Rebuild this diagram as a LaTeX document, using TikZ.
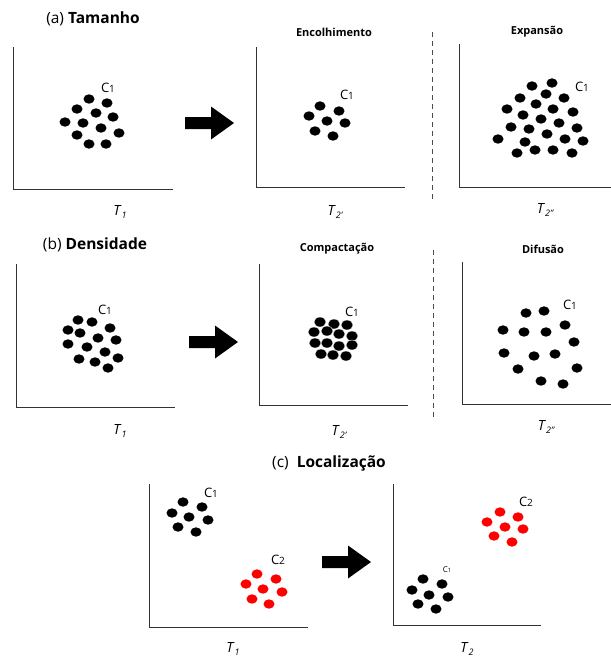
\documentclass[tikz,border=0pt]{standalone}
\usepackage{fontspec}
\setmainfont{Open Sans}
\begin{document}
\begin{tikzpicture}[x=1pt,y=-1pt,
  axis/.style={draw=black!80,line width=1pt},
  sep/.style={draw=black!70,line width=0.9pt,dash pattern=on 5pt off 4pt},
  dot/.style={fill=black},
  rdot/.style={fill=red},
  title/.style={font=\fontsize{15.5}{17}\selectfont},
  sub/.style={font=\bfseries\fontsize{11}{13}\selectfont},
  clab/.style={font=\fontsize{13}{15}\selectfont, inner sep=0pt},
  tlab/.style={font=\fontsize{14}{16}\selectfont, inner sep=0pt},
  bigarrow/.style={fill=black}]
\useasboundingbox (0,0) rectangle (611,657);
\newcommand{\dt}[3][dot]{\fill[#1] (#2,#3) ellipse (5.5pt and 4.7pt);}
\newcommand{\barrow}[2]{\fill[bigarrow] (#1,#2-6) -- ++(26,0) -- ++(0,-10.5) -- ++(23,16.5) -- ++(-23,16.5) -- ++(0,-10.5) -- ++(-26,0) -- cycle;}
\newcommand{\Cl}[1]{C{\fontsize{10}{12}\selectfont #1}}
\newcommand{\Tl}[1]{\textit{T}\raisebox{-2.5pt}{\fontsize{9}{10}\selectfont\itshape #1}}

% ---------- (a) ----------
\node[title] (ta) at (93,19) {(a) \textbf{Tamanho}};
\draw[axis] (13,47) -- (13,189) -- (173,189);
\foreach \x/\y in {89/99,107/103,77/109,96/113,113/117,65/122,83/123,101/128,119/133,77/135,89/144,106/144}
  {\dt{\x}{\y}}
\node[clab] (ca1) at (108,88) {\Cl{1}};
\node[tlab] (Ta1) at (120,212) {\Tl{1}};
\barrow{185}{123}

\node[sub] (sa2) at (334,32) {Encolhimento};
\draw[axis] (256,47) -- (256,187) -- (405,187);
\foreach \x/\y in {320/106,339/111,309/116,327/121,345/123,315/131,333/136}
  {\dt{\x}{\y}}
\node[clab] (ca2) at (347,95) {\Cl{1}};
\node[tlab] (Ta2) at (335,212) {\Tl{2'}};

\draw[sep] (432,32) -- (432,200);

\node[sub] (sa3) at (537,32) {Expansão};
\draw[axis] (459,44) -- (459,187) -- (611,187);
\foreach \x/\y in {532/86,552/83,546/94,520/98,564/98,536/104,507/109,553/109,573/112,523/115,541/119,559/123,511/127,529/129,577/128,547/134,498/139,525/142,565/139,583/141,517/153,535/150,553/150,572/153}
  {\dt{\x}{\y}}
\node[clab] (ca3) at (582,87) {\Cl{1}};
\node[tlab] (Ta3) at (545,210) {\Tl{2''}};

% ---------- (b) ----------
\node[title] (tb) at (95,245) {(b) \textbf{Densidade}};
\draw[axis] (16,264) -- (16,407) -- (175,407);
\foreach \x/\y in {78/320,92/322,68/330,110/328,80/333,98/338,116/340,68/344,87/347,105/352,79/359,95/362,118/358,108/368}
  {\dt{\x}{\y}}
\node[clab] (cb1) at (105,310) {\Cl{1}};
\node[tlab] (Tb1) at (120,431) {\Tl{1}};
\barrow{189}{342}

\node[sub] (sb2) at (337,249) {Compactação};
\draw[axis] (259,264) -- (259,405) -- (408,405);
\foreach \x/\y in {320/322,334/324,347/325,314/332,327/331,339/334,352/336,315/343,327/343,339/346,352/345,321/354,333/355,346/356}
  {\filldraw[fill=black,draw=white,line width=0.4pt] (\x,\y) ellipse (6pt and 5pt);}
\node[clab] (cb2) at (352,312) {\Cl{1}};
\node[tlab] (Tb2) at (339,432) {\Tl{2'}};

\draw[sep] (433,250) -- (433,418);

\node[sub] (sb3) at (543,249) {Difusão};
\draw[axis] (462,262) -- (462,404) -- (611,404);
\foreach \x/\y in {526/313,544/311,503/330,524/332,546/332,565/325,574/342,504/353,534/356,555/354,518/369,577/368,541/381,563/384}
  {\dt{\x}{\y}}
\node[clab] (cb3) at (570,305) {\Cl{1}};
\node[tlab] (Tb3) at (546,427) {\Tl{2''}};

% ---------- (c) ----------
\node[title] (tc) at (329,463) {(c)\ \ \textbf{Localização}};
\draw[axis] (149,484) -- (149,627) -- (308,627);
\foreach \x/\y in {183/502,202/507,172/513,189/517,208/520,178/527,196/532}
  {\dt{\x}{\y}}
\foreach \x/\y in {257/574,276/579,246/584,263/589,282/592,252/599,269/604}
  {\dt[rdot]{\x}{\y}}
\node[clab] (cc1) at (211,493) {\Cl{1}};
\node[clab] (cc2) at (278,560) {\Cl{2}};
\node[tlab] (Tc1) at (233,649) {\Tl{1}};
\barrow{322}{562}

\draw[axis] (393,484) -- (393,625) -- (541,625);
\foreach \x/\y in {500/512,518/517,487/522,505/527,523/529,494/536,512/542}
  {\dt[rdot]{\x}{\y}}
\foreach \x/\y in {423/579,442/584,412/590,429/595,448/597,418/604,436/609}
  {\dt{\x}{\y}}
\node[clab] (cd2) at (526,502) {\Cl{2}};
\node[inner sep=0pt,font=\fontsize{8}{9}\selectfont] (cd1) at (447,570) {C{\fontsize{6}{7}\selectfont 1}};
\node[tlab] (Tc2) at (467,649) {\Tl{2}};
\end{tikzpicture}
\end{document}
